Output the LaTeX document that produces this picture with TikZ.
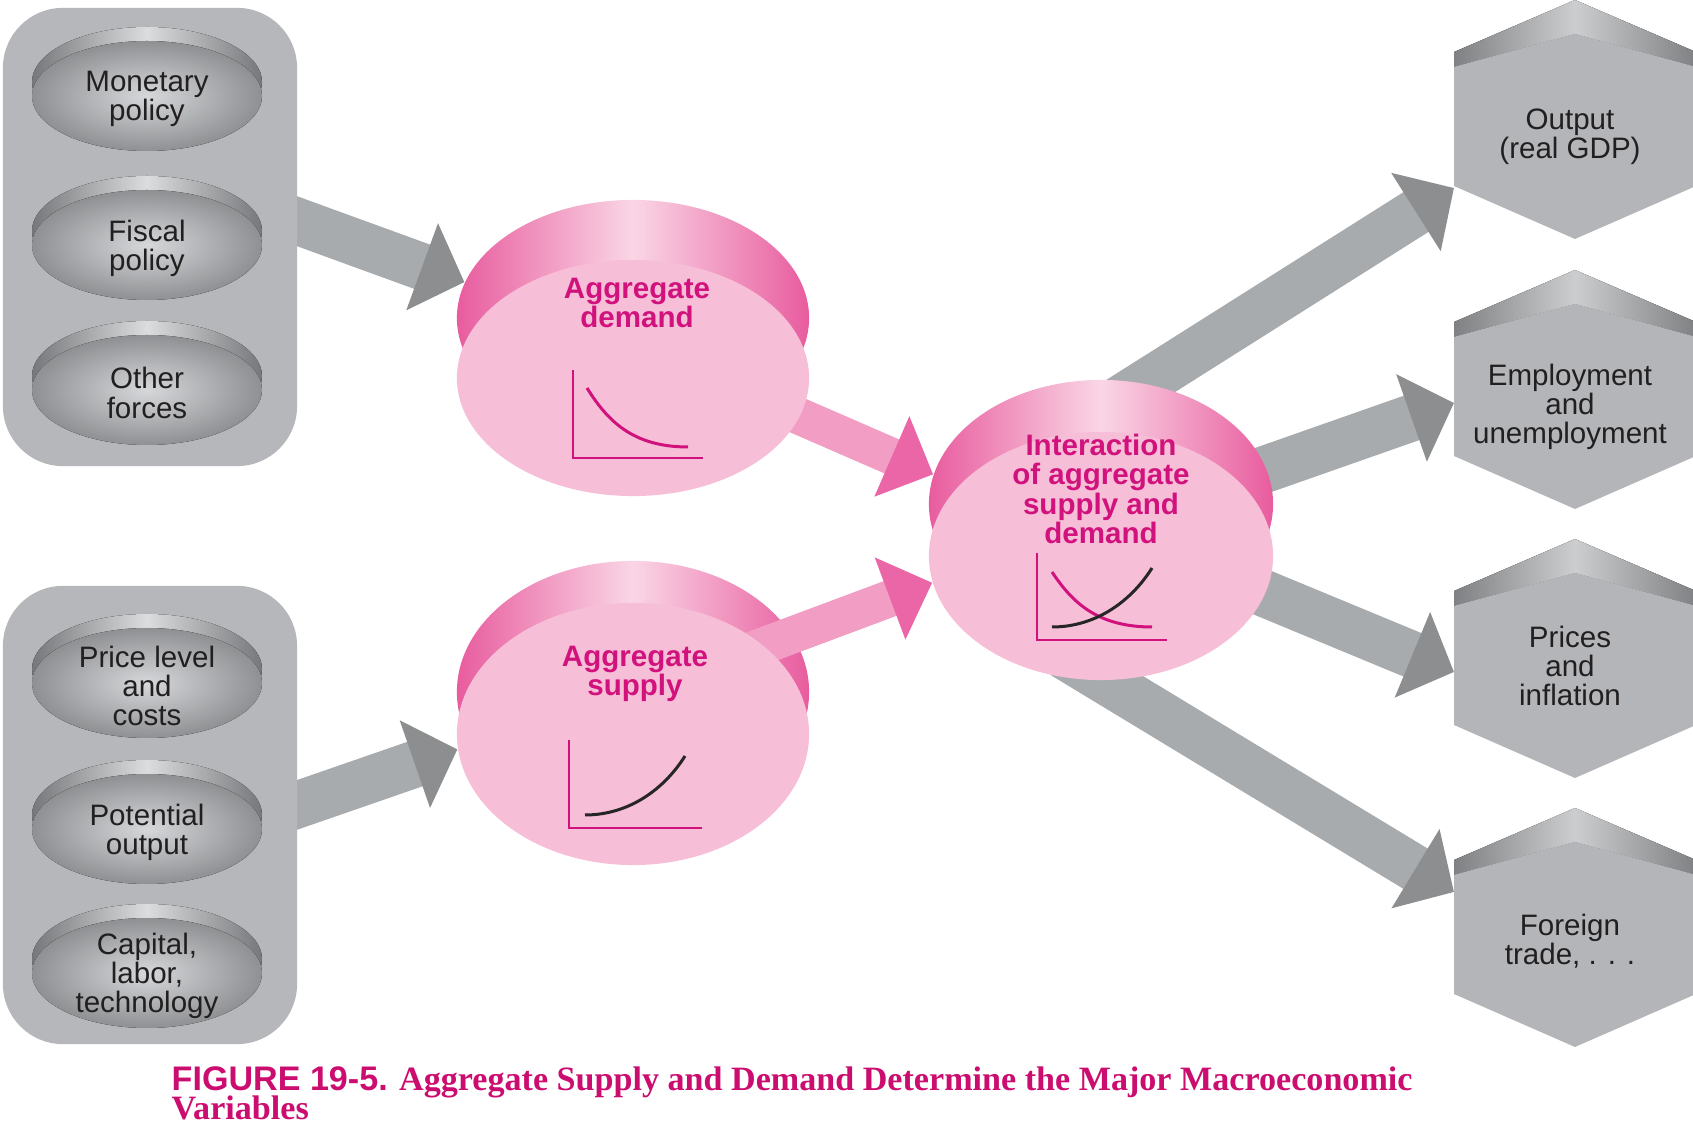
\documentclass[tikz,border=0pt]{standalone}
\usepackage{fontspec}
\setmainfont{Liberation Sans}
\newfontfamily\capserif{Liberation Serif}
\usetikzlibrary{arrows.meta,shapes.geometric}
\pgfdeclarelayer{bg}
\pgfdeclarelayer{mid}
\pgfdeclarelayer{pk}
\pgfsetlayers{bg,mid,pk,main}
\newcommand{\MYSHAFT}{0.47cm}
\newcommand{\MYPSHAFT}{0.37cm}
\newcommand{\MYHEXX}{1575}
\newcommand{\MYHEXW}{121}
\definecolor{mypanel}{rgb}{0.714,0.718,0.729}
\definecolor{mydishlight}{rgb}{0.84,0.845,0.855}
\definecolor{mydishdark}{rgb}{0.56,0.565,0.575}
\definecolor{myrimdark}{rgb}{0.46,0.47,0.48}
\definecolor{myrimlight}{rgb}{0.86,0.865,0.87}
\definecolor{mygrayarrow}{rgb}{0.66,0.67,0.68}
\definecolor{mygrayhead}{rgb}{0.55,0.555,0.565}
\definecolor{myface}{rgb}{0.969,0.745,0.843}
\definecolor{myband}{rgb}{0.91,0.36,0.62}
\definecolor{mybandlight}{rgb}{0.98,0.84,0.90}
\definecolor{mypinkarrow}{rgb}{0.95,0.62,0.77}
\definecolor{mypinkhead}{rgb}{0.92,0.40,0.65}
\definecolor{mymagenta}{rgb}{0.82,0.07,0.49}
\definecolor{myhexface}{rgb}{0.706,0.71,0.722}
\definecolor{myhexdark}{rgb}{0.50,0.505,0.515}
\definecolor{myhexlight}{rgb}{0.80,0.805,0.81}
\definecolor{mytext}{rgb}{0.13,0.12,0.12}
\definecolor{mycaption}{rgb}{0.80,0.05,0.44}

\begin{document}
\begin{tikzpicture}[x=0.01cm,y=-0.01cm,
	panel/.style={rectangle,fill=mypanel,rounded corners=0.6cm,minimum width=2.94cm,minimum height=4.58cm,inner sep=0pt},
	labeltext/.style={align=center,inner sep=0pt,text=mytext,font=\fontsize{8.4}{8.3}\selectfont},
	disktext/.style={align=center,inner sep=0pt,text=mymagenta,font=\fontsize{8.4}{8.3}\selectfont\bfseries},
	band/.style={ellipse,inner sep=0pt,left color=myband,right color=myband,middle color=mybandlight},
	disk/.style={ellipse,inner sep=0pt,fill=myface},
	chartaxis/.style={draw=mymagenta,line width=0.018cm},
	dcurve/.style={draw=mymagenta,line width=0.03cm},
	scurve/.style={draw=black!85,line width=0.03cm},
	grayarrow/.style={draw=mygrayarrow,line width=\MYSHAFT,-{Triangle[length=0.45cm,width=0.9cm,color=mygrayhead]}},
	pinkarrow/.style={draw=mypinkarrow,line width=\MYPSHAFT,-{Triangle[length=0.45cm,width=0.85cm,color=mypinkhead]}},
	captext/.style={align=left,inner sep=0pt,text=mycaption,font=\fontsize{9.7}{8.3}\selectfont\bfseries\capserif}]

	\useasboundingbox (0,0) rectangle (1693,1125);

	%% results (hexagons)
	\foreach \T/\nm/\tp/\lb/\txt in {0/v1/188/137/{Output\\(real GDP)},270/v2/133/137/{Employment\\and\\unemployment},539/v3/133/127/{Prices\\and\\inflation},808/v4/84/133/{Foreign\\trade, . . .}}{
		\fill[left color=myhexdark,right color=myhexlight] ({\MYHEXX-\MYHEXW},{\T+52}) -- ({\MYHEXX},{\T}) -- ({\MYHEXX},{\T+34}) -- ({\MYHEXX-\MYHEXW},{\T+67}) -- cycle;
		\fill[left color=myhexlight,right color=myhexdark] ({\MYHEXX},{\T}) -- ({\MYHEXX+\MYHEXW},{\T+52}) -- ({\MYHEXX+\MYHEXW},{\T+67}) -- ({\MYHEXX},{\T+34}) -- cycle;
		\fill[myhexface] ({\MYHEXX-\MYHEXW},{\T+67}) -- ({\MYHEXX},{\T+34}) -- ({\MYHEXX+\MYHEXW},{\T+67}) -- ({\MYHEXX+\MYHEXW},{\T+186}) -- ({\MYHEXX},{\T+239}) -- ({\MYHEXX-\MYHEXW},{\T+186}) -- cycle;
		\node[labeltext] (\nm) at (1570,{\T+\lb}) {\txt};
		\coordinate (\nm tip) at ({\MYHEXX-\MYHEXW},{\T+\tp});
	}

	%% forces (left panels)
	\node[panel] (p1) at (150,237) {};
	\node[panel] (p2) at (150,815) {};
	\foreach \yy/\nm/\txt in {99/f1/{Monetary\\policy},248/f2/{Fiscal\\policy},393/f3/{Other\\forces},686/f4/{Price level\\and\\costs},832/f5/{Potential\\output},976/f6/{Capital,\\labor,\\technology}}{
		\fill[left color=myrimdark,right color=myrimdark,middle color=myrimlight] (147,{\yy-17}) ellipse (115 and 55);
		\fill[inner color=mydishlight,outer color=mydishdark] (147,{\yy-3}) ellipse (115 and 55);
		\node[labeltext] (\nm) at (147,\yy) {\txt};
	}

	%% aggregate demand, aggregate supply, interaction
	\begin{pgfonlayer}{mid}
		\node[band,minimum width=3.52cm,minimum height=2.36cm] (ad0) at (633,318) {};
		\node[band,minimum width=3.52cm,minimum height=2.62cm] (as0) at (633,692) {};
		\node[band,minimum width=3.44cm,minimum height=2.48cm] (ia0) at (1101,504) {};
	\end{pgfonlayer}
	\node[disk,minimum width=3.52cm,minimum height=2.36cm] (ad) at (633,378) {};
	\node[disk,minimum width=3.52cm,minimum height=2.62cm] (as) at (633,734) {};
	\node[disk,minimum width=3.44cm,minimum height=2.48cm] (ia) at (1101,556) {};

	\node[disktext] (adl) at (637,303) {Aggregate\\demand};
	\node[disktext] (asl) at (635,674) {Aggregate\\supply};
	\node[disktext] (ial) at (1101,489) {Interaction\\of aggregate\\supply and\\demand};

	\draw[chartaxis] (573,370) -- (573,458) -- (703,458);
	\draw[dcurve] (587,388) .. controls (607,420) and (632,447) .. (688,447);
	\draw[chartaxis] (569,740) -- (569,828) -- (702,828);
	\draw[scurve] (585,815) .. controls (630,815) and (665,788) .. (685,756);
	\draw[chartaxis] (1037,553) -- (1037,640) -- (1167,640);
	\draw[dcurve] (1052,572) .. controls (1072,602) and (1097,627) .. (1152,627);
	\draw[scurve] (1052,627) .. controls (1097,627) and (1132,600) .. (1152,568);

	%% arrows
	\begin{pgfonlayer}{bg}
		\draw[grayarrow,shorten <=-0.3cm] (p1.6) -- (ad0.168);
		\draw[grayarrow,shorten <=-0.3cm] (p2.4) -- (as.185);
		\draw[grayarrow,shorten <=-0.6cm] (ia0.70) -- (v1tip);
		\draw[grayarrow,shorten <=-0.5cm] (ia0.12) -- (v2tip);
		\draw[grayarrow,shorten <=-0.4cm] (ia.-13.5) -- (v3tip);
		\draw[grayarrow,shorten <=-0.5cm] (ia.-88) -- (v4tip);
	\end{pgfonlayer}
	\begin{pgfonlayer}{pk}
		\draw[pinkarrow,shorten <=-0.3cm] (ad.-13) -- (ia0.170);
		\draw[pinkarrow,shorten <=-0.3cm] (as.34) -- (ia.189);
	\end{pgfonlayer}

	%% caption
	\node[captext,anchor=north west] (cap) at (171,1066) {{\normalfont\bfseries FIGURE 19-5.} Aggregate Supply and Demand Determine the Major Macroeconomic\\[-1.6pt]Variables};

\end{tikzpicture}
\end{document}
